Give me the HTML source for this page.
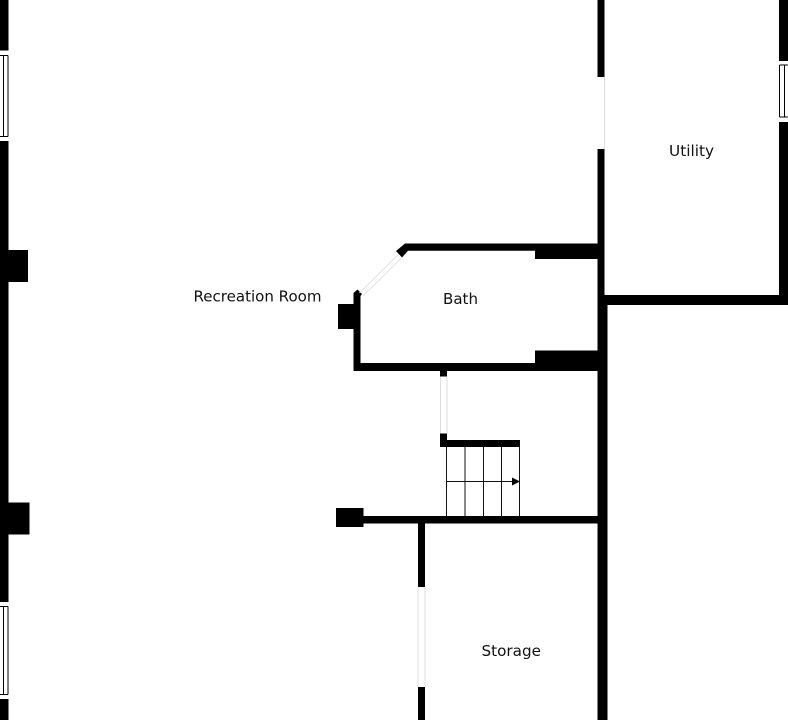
<!DOCTYPE html>
<html>
<head>
<meta charset="utf-8">
<style>
html,body{margin:0;padding:0;background:#fff;width:788px;height:720px;overflow:hidden}
svg{display:block}
text{font-family:"DejaVu Sans",sans-serif;font-size:15px;fill:#111}
</style>
</head>
<body>
<svg width="788" height="720" viewBox="0 0 788 720" xmlns="http://www.w3.org/2000/svg">
<rect width="788" height="720" fill="#fff"/>
<g fill="#000">
<!-- left wall -->
<rect x="0" y="0" width="8.5" height="50.5"/>
<rect x="0" y="141" width="8.5" height="461"/>
<rect x="0" y="699" width="8.5" height="21"/>
<rect x="8" y="250" width="20" height="32"/>
<rect x="8" y="502.5" width="21.5" height="32"/>
<!-- central wall -->
<rect x="597.5" y="0" width="7" height="77"/>
<rect x="597.5" y="149" width="7" height="150"/>
<rect x="597.5" y="299" width="10" height="421"/>
<!-- right wall -->
<rect x="779" y="0" width="9" height="61"/>
<rect x="779" y="122" width="9" height="183"/>
<rect x="604" y="295" width="184" height="10"/>
<!-- bath -->
<polygon points="405,243.5 598,243.5 598,259 535,259 535,250.7 408,250.7 402,257.5 396,251"/>
<polygon points="353.5,293 357.5,289.5 362,294 360.5,296 360.5,363 535,363 535,350.5 598,350.5 598,371 353.5,371"/>
<rect x="338" y="304" width="16" height="25"/>
<!-- door below bath -->
<rect x="440" y="371" width="7" height="5.5"/>
<rect x="440" y="433.5" width="7" height="13.5"/>
<rect x="440" y="440" width="80" height="7"/>
<!-- lower horizontal wall -->
<rect x="363" y="516" width="235" height="7.5"/>
<rect x="336" y="508" width="27.5" height="19"/>
<!-- storage wall -->
<rect x="418" y="523" width="7" height="64"/>
<rect x="418" y="687" width="7" height="33"/>
</g>
<!-- windows -->
<g fill="none" stroke="#000" stroke-width="1">
<path d="M8 55.5H0M8 55.5V136.5M3.5 55.5V136.5M8 136.5H0"/>
<path d="M8 606.5H0M8 606.5V694.5M3.5 606.5V694.5M8 694.5H0"/>
<path d="M779.5 65V117M784.5 65V117M779.5 65H788M779.5 117H788"/>
</g>
<!-- door jamb lines -->
<g stroke="#ddd" stroke-width="1" fill="none">
<path d="M604.5 77V149"/>
<path d="M440.5 376.5V433.5M447 376.5V433.5"/>
<path d="M418 587V687M425 587V687"/>
<path d="M359.5 293L398 254.5M363 296L401.5 258" stroke="#e4e4e4"/>
</g>
<!-- stairs -->
<g stroke="#111" stroke-width="1" fill="none">
<path d="M446.5 447V516M465 447V516M483.5 447V516M501.5 447V516M519.5 447V516"/>
<path d="M446.5 481.5H513"/>
</g>
<polygon points="512,477.5 520,481.5 512,485.5" fill="#000"/>
<!-- labels -->
<text x="193.5" y="301.5" textLength="128" lengthAdjust="spacingAndGlyphs">Recreation Room</text>
<text x="443" y="304" textLength="35" lengthAdjust="spacingAndGlyphs">Bath</text>
<text x="669" y="156" textLength="45" lengthAdjust="spacingAndGlyphs">Utility</text>
<text x="481.5" y="656" textLength="59.5" lengthAdjust="spacingAndGlyphs">Storage</text>
</svg>
</body>
</html>
